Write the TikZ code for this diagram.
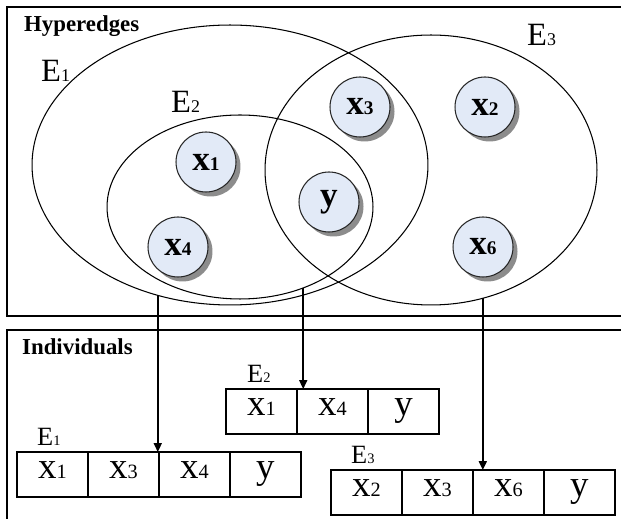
\documentclass[tikz,border=0pt]{standalone}
\usepackage{fontspec}
\setmainfont{Liberation Serif}
\usetikzlibrary{positioning, arrows.meta, shapes.geometric, shadows}
\definecolor{vertexblue}{RGB}{226,234,247}
\newcommand{\ix}[1]{\scalebox{0.55}{#1}}

\begin{document}
\begin{tikzpicture}[
    x=0.02cm, y=-0.02cm,
    hedge/.style={
      draw, ellipse, line width=0.6pt, inner sep=0pt, outer sep=0pt
    },
    vertex/.style={
      draw=black!85, circle, fill=vertexblue, minimum size=1.2cm,
      inner sep=0pt, line width=0.6pt,
      font=\fontsize{20}{20}\selectfont\bfseries,
      drop shadow={shadow xshift=0.09cm, shadow yshift=-0.09cm,
        fill=black!45, opacity=1}
    },
    cell/.style={
      draw, line width=0.8pt, minimum width=1.42cm, minimum height=0.9cm,
      inner sep=0pt, outer sep=0pt, text height=0.46em, text depth=0pt,
      font=\fontsize{21}{21}\selectfont
    },
    panel/.style={draw, line width=0.8pt},
    title/.style={font=\fontsize{13}{13}\selectfont\bfseries, anchor=base west},
    elabel/.style={font=\fontsize{18.5}{18.5}\selectfont, anchor=base west},
    tlabel/.style={font=\fontsize{15}{15}\selectfont, anchor=base west},
    link/.style={-{Triangle[length=5pt, width=4.5pt]}, line width=0.9pt},
]
    \useasboundingbox (0,0) rectangle (621,519);
    \clip (0,0) rectangle (621,519);

    % Panels
    \draw[panel] (7,7) rectangle (640,316);
    \draw[panel] (7,330) rectangle (640,540);
    \node[title] (hyper) at (18,32) {Hyperedges};
    \node[title] (indiv) at (16,355) {Individuals};

    % Hyperedges
    \node[hedge, minimum width=7.92cm, minimum height=5.6cm] (e1) at (230,165) {};
    \node[hedge, minimum width=5.32cm, minimum height=3.68cm] (e2) at (240,207) {};
    \node[hedge, minimum width=6.64cm, minimum height=5.4cm] (e3) at (431,170) {};
    \node[elabel] (le1) at (35,82) {E\ix{1}};
    \node[elabel] (le2) at (165,113) {E\ix{2}};
    \node[elabel] (le3) at (521,46) {E\ix{3}};

    % Vertices
    \node[vertex] (v3) at (360,107) {x\ix{3}};
    \node[vertex] (v2) at (485,107) {x\ix{2}};
    \node[vertex] (v1) at (206,162) {x\ix{1}};
    \node[vertex] (vy) at (329,202) {y};
    \node[vertex] (v4) at (178,247) {x\ix{4}};
    \node[vertex] (v6) at (483,247) {x\ix{6}};

    % Individuals for E1
    \node[cell] (a1) at (52.5,474.5) {x\ix{1}};
    \node[cell, right=0pt of a1] (a2) {x\ix{3}};
    \node[cell, right=0pt of a2] (a3) {x\ix{4}};
    \node[cell, right=0pt of a3] (a4) {y};
    \node[tlabel] (t1) at ([shift={(14,-7)}]a1.north west) {E\ix{1}};

    % Individuals for E2
    \node[cell] (b1) at (261.5,411.5) {x\ix{1}};
    \node[cell, right=0pt of b1] (b2) {x\ix{4}};
    \node[cell, right=0pt of b2] (b3) {y};
    \node[tlabel] (t2) at ([shift={(15,-7)}]b1.north west) {E\ix{2}};

    % Individuals for E3
    \node[cell] (c1) at (366.5,492.5) {x\ix{2}};
    \node[cell, right=0pt of c1] (c2) {x\ix{3}};
    \node[cell, right=0pt of c2] (c3) {x\ix{6}};
    \node[cell, right=0pt of c3] (c4) {y};
    \node[tlabel] (t3) at ([shift={(14,-7)}]c1.north west) {E\ix{3}};

    % Links from hyperedges to individuals
    \draw[link] (e1.241) -- (e1.241 |- a3.north);
    \draw[link] (e2.308.4) -- (e2.308.4 |- b2.north);
    \draw[link] (e3.292.5) -- (e3.292.5 |- c3.north);
\end{tikzpicture}
\end{document}
